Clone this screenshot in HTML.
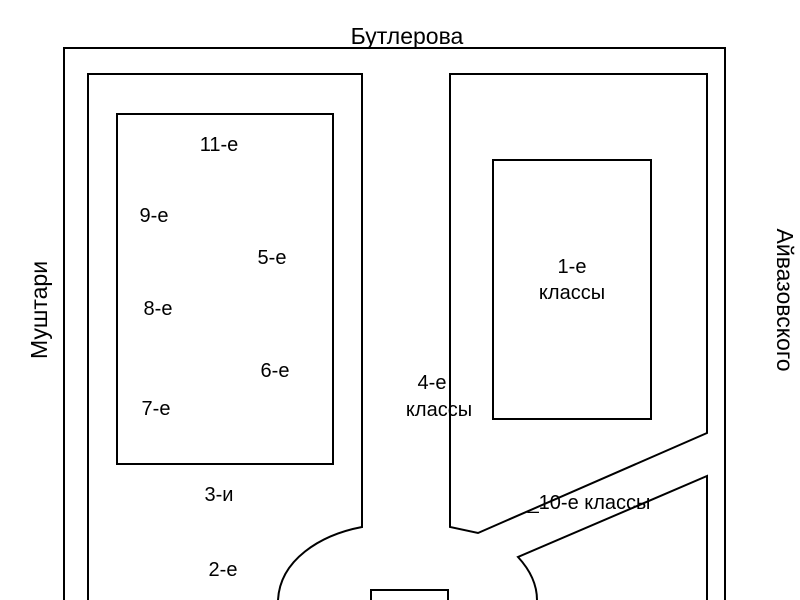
<!DOCTYPE html>
<html><head><meta charset="utf-8"><style>
html,body{margin:0;padding:0;background:#fff;width:800px;height:600px;overflow:hidden}
svg text{font-family:"Liberation Sans",sans-serif;font-size:20px;fill:#000}
</style></head><body>
<svg width="800" height="600" viewBox="0 0 800 600" xmlns="http://www.w3.org/2000/svg">
<g fill="none" stroke="#000" stroke-width="2">
<path d="M64,600 L64,48 L725,48 L725,600"/>
<path d="M88,600 L88,74 L362,74 L362,527 C320,535 280,560 278,600"/>
<path d="M450,74 L707,74 L707,433 L478,533 L450,527 Z"/>
<path d="M707,600 L707,476 L518,557 C530,570 537,585 537,600"/>
<rect x="117" y="114" width="216" height="350"/>
<rect x="493" y="160" width="158" height="259"/>
<path d="M371,600 L371,590 L448,590 L448,600"/>
</g>
<text x="407" y="44" text-anchor="middle" style="font-size:23px">Бутлерова</text>
<text transform="translate(47,310) rotate(-90)" text-anchor="middle" style="font-size:23px">Муштари</text>
<text transform="translate(777,300) rotate(90)" text-anchor="middle" style="font-size:23px">Айвазовского</text>
<text x="219" y="151" text-anchor="middle">11-е</text>
<text x="154" y="222" text-anchor="middle">9-е</text>
<text x="272" y="264" text-anchor="middle">5-е</text>
<text x="158" y="315" text-anchor="middle">8-е</text>
<text x="275" y="377" text-anchor="middle">6-е</text>
<text x="156" y="415" text-anchor="middle">7-е</text>
<text x="219" y="501" text-anchor="middle">3-и</text>
<text x="223" y="576" text-anchor="middle">2-е</text>
<text x="572" y="273" text-anchor="middle">1-е</text>
<text x="572" y="299" text-anchor="middle">классы</text>
<text x="432" y="389" text-anchor="middle">4-е</text>
<text x="439" y="416" text-anchor="middle">классы</text>
<text x="589" y="509" text-anchor="middle">_10-е классы</text>
</svg>
</body></html>
